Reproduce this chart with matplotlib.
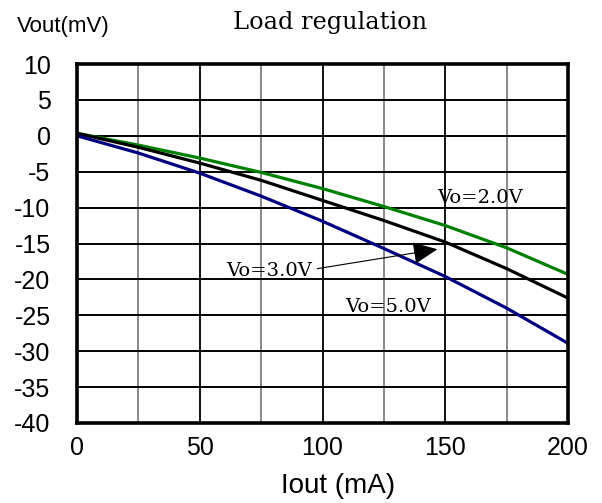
import matplotlib
matplotlib.use("Agg")
import matplotlib.pyplot as plt

iout = [0, 25, 50, 75, 100, 125, 150, 175, 200]
vo_2v = [0.35, -1.3, -3.1, -5.1, -7.35, -9.85, -12.5, -15.6, -19.3]
vo_3v = [0.35, -1.6, -3.8, -6.2, -9.0, -11.8, -14.8, -18.5, -22.6]
vo_5v = [0.0, -2.4, -5.2, -8.4, -11.9, -15.7, -19.6, -24.0, -28.9]

xticks = [0, 50, 100, 150, 200]
yticks = [10, 5, 0, -5, -10, -15, -20, -25, -30, -35, -40]

W, H = 602, 503
fig = plt.figure(figsize=(W / 100, H / 100), dpi=100)
L, R, T, B = 77, 568, 64, 423
ax = fig.add_axes([L / W, 1 - B / H, (R - L) / W, (B - T) / H])

ax.set_xlim(0, 200)
ax.set_ylim(-40, 10)

# grid
for x in range(25, 200, 25):
    ax.axvline(x, color="#000000" if x % 50 == 0 else "#808080", lw=1.3, zorder=1)
for y in range(-35, 10, 5):
    ax.axhline(y, color="#000000", lw=1.4, zorder=1)

ax.plot(iout, vo_2v, color="#008000", lw=2.3, zorder=3)
ax.plot(iout, vo_3v, color="#000000", lw=2.3, zorder=3)
ax.plot(iout, vo_5v, color="#000080", lw=2.3, zorder=3)

serif = "DejaVu Serif"
ax.text(164.2, -9.4, "Vo=2.0V", family=serif, fontsize=14, ha="center", va="baseline", zorder=4)
ax.text(126.8, -24.6, "Vo=5.0V", family=serif, fontsize=14, ha="center", va="baseline", zorder=4)
ax.text(78.2, -19.5, "Vo=3.0V", family=serif, fontsize=14, ha="center", va="baseline", zorder=4)
ax.annotate("", xy=(146.8, -15.8), xytext=(97.9, -18.5), zorder=4,
            arrowprops=dict(arrowstyle="-|>,head_length=1.1,head_width=0.5", color="black",
                            lw=0.8, shrinkA=0, shrinkB=0, mutation_scale=14))

ax.set_xticks(xticks)
ax.set_yticks(yticks)
ax.set_xticklabels([str(v) for v in xticks], family="Liberation Sans", fontsize=18)
ax.set_yticklabels([str(v) for v in yticks], family="Liberation Sans", fontsize=18)
ax.tick_params(length=0)
ax.tick_params(axis="x", pad=9.5)
ax.tick_params(axis="y", pad=19)

for s in ax.spines.values():
    s.set_linewidth(2.6)
    s.set_zorder(5)

fig.text(17 / W, 1 - 32 / H, "Vout(mV)", family="Liberation Sans", fontsize=16, ha="left", va="baseline")
fig.text(330 / W, 1 - 28.5 / H, "Load regulation", family=serif, fontsize=17.3, ha="center", va="baseline")
fig.text(338 / W, 1 - 493 / H, "Iout (mA)", family="Liberation Sans", fontsize=20, ha="center", va="baseline")

fig.savefig("out.png", dpi=100)
